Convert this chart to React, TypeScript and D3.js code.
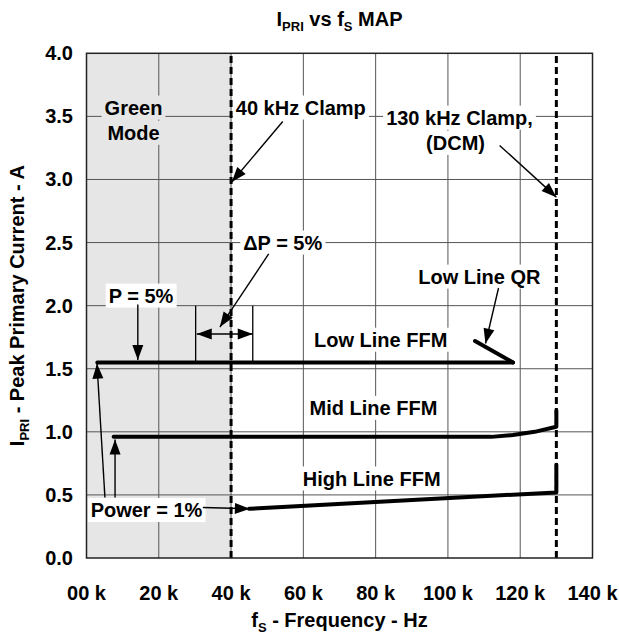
import * as d3 from 'd3';
import { useRef, useEffect } from 'react';

const xTicks = [0, 20, 40, 60, 80, 100, 120, 140];
const xTickLabels = ['00 k', '20 k', '40 k', '60 k', '80 k', '100 k', '120 k', '140 k'];
const yTicks = [0, 0.5, 1, 1.5, 2, 2.5, 3, 3.5, 4];
const greenMode = [0, 40];
const clampLines = [40, 130];

// [kHz, A]
const lowLineFfm = [[3, 1.55], [118, 1.55]];
const lowLineQr = [[118, 1.55], [107.5, 1.72]];
const midLineFfm = [[7.5, 0.96], [112, 0.96], [118, 0.975], [124, 1.0], [130, 1.04], [130, 1.17]];
const highLineFfm = [[45, 0.39], [130, 0.52], [130, 0.74]];
const series = [lowLineFfm, lowLineQr, midLineFfm, highLineFfm];

// delta P bracket
const bracketEdges = [30.2, 46];
const bracketLevels = [2.0, 1.55];

const labels = [
  { text: 'Green', x: 13, y: 3.57, bg: '#e6e6e6' },
  { text: 'Mode', x: 13, y: 3.37, bg: '#e6e6e6' },
  { text: '40 kHz Clamp', x: 59.3, y: 3.57, bg: '#fff' },
  { text: '130 kHz Clamp,', x: 103.2, y: 3.49, bg: '#fff' },
  { text: '(DCM)', x: 102.1, y: 3.29, bg: '#fff' },
  { text: '\u0394P = 5%', x: 54.3, y: 2.5, bg: '#fff' },
  { text: 'P = 5%', x: 15.1, y: 2.08, bg: '#fff' },
  { text: 'Low Line QR', x: 108.7, y: 2.23, bg: '#fff' },
  { text: 'Low Line FFM', x: 81.4, y: 1.73, bg: '#fff' },
  { text: 'Mid Line FFM', x: 79.4, y: 1.19, bg: '#fff' },
  { text: 'High Line FFM', x: 78.9, y: 0.63, bg: '#fff' },
  { text: 'Power = 1%', x: 16.6, y: 0.38, bg: '#fff' },
];

const arrows = [
  { from: [54.3, 3.46], to: [40.2, 2.98], both: false },
  { from: [114.3, 3.27], to: [130, 2.86], both: false },
  { from: [50.4, 2.41], to: [36.9, 1.83], both: false },
  { from: [30.5, 1.775], to: [46, 1.775], both: true },
  { from: [14.2, 2.01], to: [14.2, 1.57], both: false },
  { from: [114, 2.14], to: [110.4, 1.7], both: false },
  { from: [5.1, 0.48], to: [2.9, 1.54], both: false },
  { from: [7.9, 0.48], to: [7.9, 0.94], both: false },
  { from: [32.2, 0.4], to: [45.2, 0.39], both: false },
];

const W = 619;
const H = 637;
const margin = { top: 53.3, right: 26.5, bottom: 79, left: 86.5 };
const font = "'Liberation Sans', Arial, sans-serif";

const App = () => {
  const svgRef = useRef(null);

  useEffect(() => {
    document.body.style.margin = '0';
    const svg = d3.select(svgRef.current);
    svg.selectAll('*').remove();

    const x = d3.scaleLinear().domain([0, 140]).range([margin.left, W - margin.right]);
    const y = d3.scaleLinear().domain([0, 4]).range([H - margin.bottom, margin.top]);

    // green mode shading
    svg.append('rect')
      .attr('x', x(greenMode[0]))
      .attr('y', y(4))
      .attr('width', x(greenMode[1]) - x(greenMode[0]))
      .attr('height', y(0) - y(4))
      .attr('fill', '#e6e6e6');

    // grid
    const grid = svg.append('g').attr('stroke', '#555').attr('stroke-width', 1);
    grid.selectAll('.gv').data(xTicks.slice(1, -1)).join('line')
      .attr('x1', d => x(d)).attr('x2', d => x(d))
      .attr('y1', y(0)).attr('y2', y(4));
    grid.selectAll('.gh').data(yTicks.slice(1, -1)).join('line')
      .attr('x1', x(0)).attr('x2', x(140))
      .attr('y1', d => y(d)).attr('y2', d => y(d));

    const bgLayer = svg.append('g');

    // clamp lines
    svg.selectAll('.clamp').data(clampLines).join('line')
      .attr('x1', d => x(d)).attr('x2', d => x(d))
      .attr('y1', y(0)).attr('y2', y(4))
      .attr('stroke', '#000')
      .attr('stroke-width', 3)
      .attr('stroke-dasharray', '7,4');

    // delta P bracket
    svg.selectAll('.bracket').data(bracketEdges).join('line')
      .attr('x1', d => x(d)).attr('x2', d => x(d))
      .attr('y1', y(bracketLevels[0])).attr('y2', y(bracketLevels[1]))
      .attr('stroke', '#000')
      .attr('stroke-width', 1.3);

    // curves
    const line = d3.line().x(d => x(d[0])).y(d => y(d[1]));
    svg.selectAll('.series').data(series).join('path')
      .attr('d', d => line(d))
      .attr('fill', 'none')
      .attr('stroke', '#000')
      .attr('stroke-width', 4)
      .attr('stroke-linejoin', 'round')
      .attr('stroke-linecap', 'round');

    // arrows
    const arrowG = svg.append('g');
    const head = (x1, y1, x2, y2) => {
      const a = Math.atan2(y2 - y1, x2 - x1);
      const len = 15, hw = 5.5;
      const bx = x2 - len * Math.cos(a), by = y2 - len * Math.sin(a);
      const px = -Math.sin(a) * hw, py = Math.cos(a) * hw;
      arrowG.append('polygon')
        .attr('points', `${x2},${y2} ${bx + px},${by + py} ${bx - px},${by - py}`)
        .attr('fill', '#000');
    };
    arrows.forEach(ar => {
      const x1 = x(ar.from[0]), y1 = y(ar.from[1]);
      const x2 = x(ar.to[0]), y2 = y(ar.to[1]);
      arrowG.append('line')
        .attr('x1', x1).attr('y1', y1).attr('x2', x2).attr('y2', y2)
        .attr('stroke', '#000').attr('stroke-width', 1.4);
      head(x1, y1, x2, y2);
      if (ar.both) head(x2, y2, x1, y1);
    });

    // labels with background boxes that break the grid
    const textLayer = svg.append('g')
      .style('font-family', font)
      .style('font-weight', 'bold')
      .style('font-size', '20px');
    labels.forEach(l => {
      const t = textLayer.append('text')
        .attr('x', x(l.x))
        .attr('y', y(l.y))
        .attr('dy', '0.35em')
        .attr('text-anchor', 'middle')
        .text(l.text);
      const b = t.node().getBBox();
      bgLayer.append('rect')
        .attr('x', b.x - 3).attr('y', b.y - 1)
        .attr('width', b.width + 6).attr('height', b.height + 2)
        .attr('fill', l.bg);
    });

    // plot border
    svg.append('rect')
      .attr('x', x(0)).attr('y', y(4))
      .attr('width', x(140) - x(0)).attr('height', y(0) - y(4))
      .attr('fill', 'none')
      .attr('stroke', '#222')
      .attr('stroke-width', 1.5);

    // tick labels
    const ticks = svg.append('g')
      .style('font-family', font)
      .style('font-weight', 'bold')
      .style('font-size', '20px');
    ticks.selectAll('.xt').data(xTicks).join('text')
      .attr('x', d => x(d))
      .attr('y', 600)
      .attr('text-anchor', 'middle')
      .text((d, i) => xTickLabels[i]);
    ticks.selectAll('.yt').data(yTicks).join('text')
      .attr('x', 73)
      .attr('y', d => y(d))
      .attr('dy', '0.35em')
      .attr('text-anchor', 'end')
      .text(d => d.toFixed(1));

    // titles with subscripts
    const subText = (g, parts) => {
      parts.forEach(([txt, sub], i) => {
        const prev = i > 0 && parts[i - 1][1];
        g.append('tspan')
          .attr('font-size', sub ? 13 : 20)
          .attr('dy', sub ? 5 : prev ? -5 : 0)
          .text(txt);
      });
    };

    const title = svg.append('text')
      .attr('x', 339.5).attr('y', 26)
      .attr('text-anchor', 'middle')
      .style('font-family', font).style('font-weight', 'bold').style('font-size', '20px');
    subText(title, [['I', false], ['PRI', true], [' vs f', false], ['S', true], [' MAP', false]]);

    const xTitle = svg.append('text')
      .attr('x', 339.5).attr('y', 627)
      .attr('text-anchor', 'middle')
      .style('font-family', font).style('font-weight', 'bold').style('font-size', '20px');
    subText(xTitle, [['f', false], ['S', true], [' - Frequency - Hz', false]]);

    const yTitle = svg.append('text')
      .attr('transform', `translate(24,${(y(0) + y(4)) / 2}) rotate(-90)`)
      .attr('text-anchor', 'middle')
      .style('font-family', font).style('font-weight', 'bold').style('font-size', '20px');
    subText(yTitle, [['I', false], ['PRI', true], [' - Peak Primary Current - A', false]]);
  }, []);

  return (
    <div>
      <svg ref={svgRef} width={W} height={H} style={{ display: 'block' }}></svg>
    </div>
  );
};

export default App;
